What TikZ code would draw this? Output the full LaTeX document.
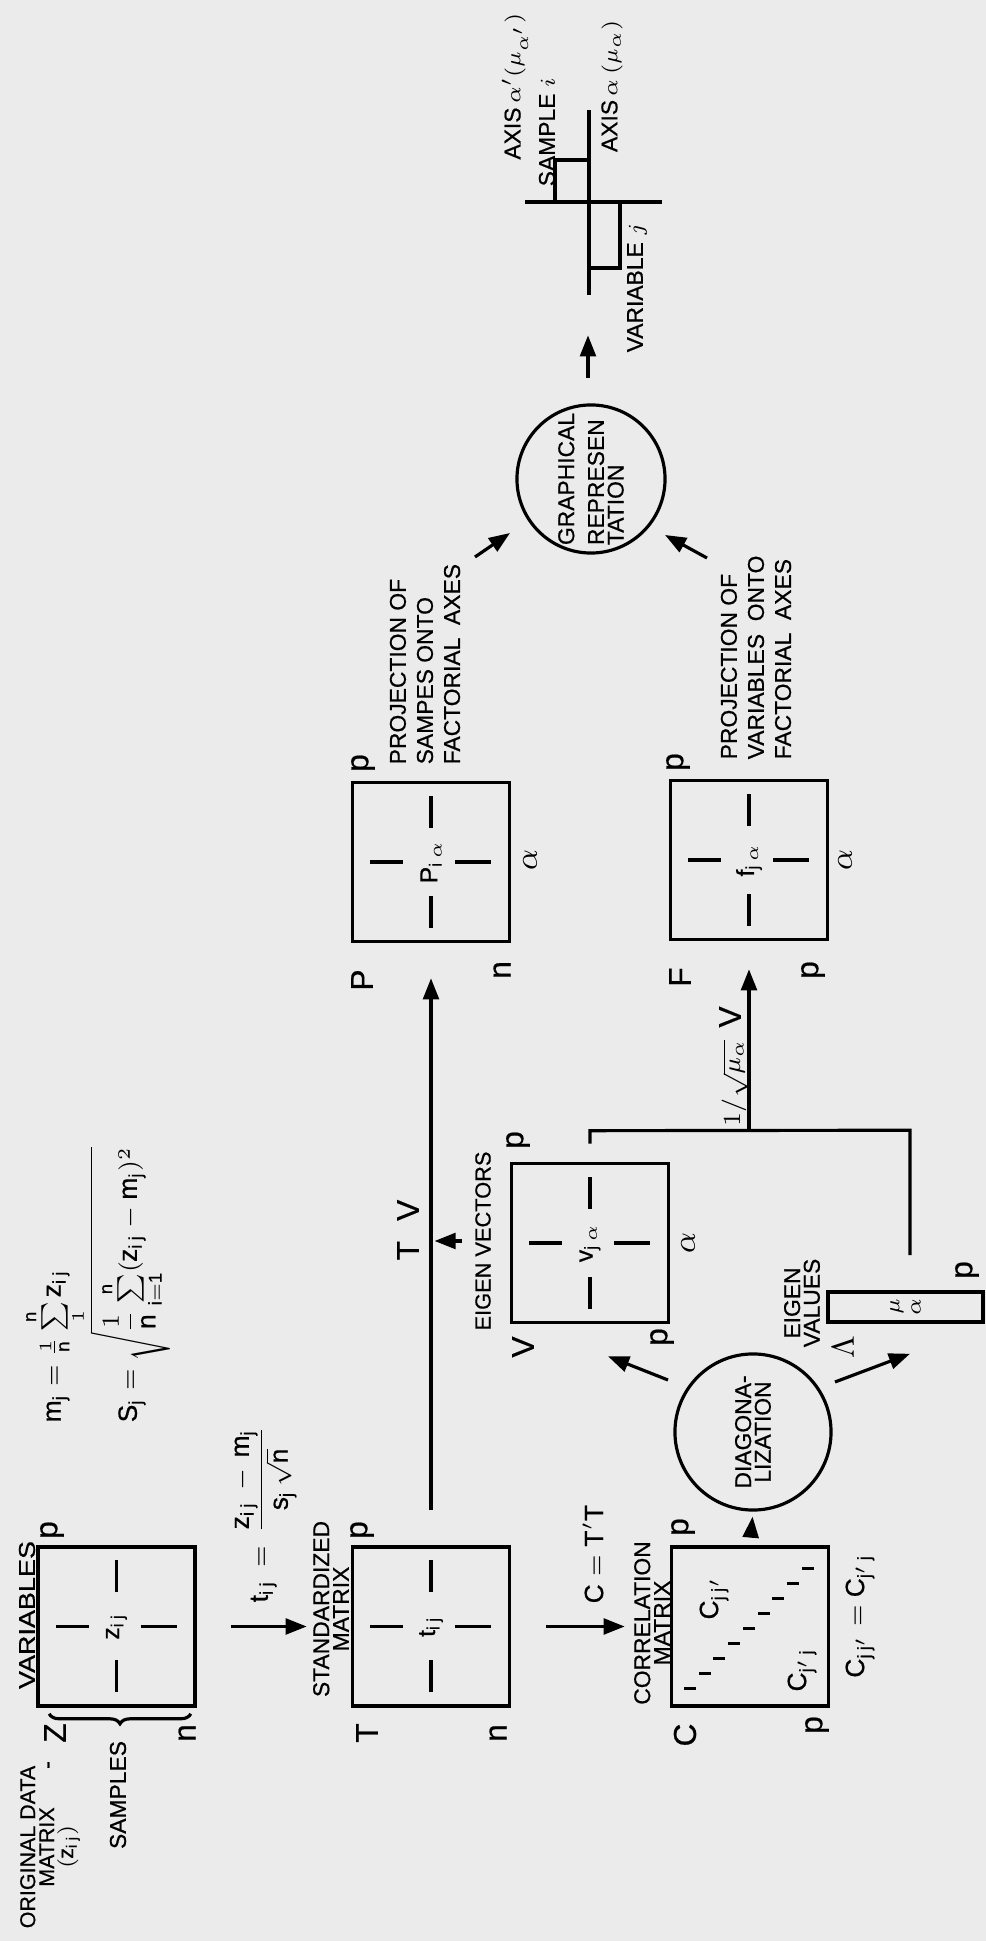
\documentclass[tikz,border=0pt]{standalone}
\usepackage{amsmath,amssymb}
\usepackage{graphicx}
\usepackage{fontspec}
\setmainfont[FakeBold=0.6]{Liberation Sans}
\usepackage{tikz}
\usetikzlibrary{positioning,arrows.meta,calc,decorations.pathreplacing}
\definecolor{paper}{gray}{0.92}

\begin{document}
\begin{tikzpicture}[
		x=0.01cm, y=0.01cm, rotate=90, transform shape,
		mat/.style={draw, line width=1pt, minimum width=1.59cm, minimum height=1.57cm, inner sep=0pt, font=\fontsize{7}{7}\selectfont},
		blob/.style={draw, circle, line width=0.9pt, inner sep=0pt, align=center, font=\fontsize{6.5}{5.6}\selectfont},
		lbl/.style={inner sep=0pt, align=center, font=\fontsize{6.5}{5.6}\selectfont},
		plbl/.style={inner sep=0pt, align=left, anchor=west, font=\fontsize{6.5}{7.7}\selectfont},
		corner/.style={inner sep=0pt, font=\fontsize{9}{9}\selectfont},
		form/.style={inner sep=0pt, font=\fontsize{7.5}{8}\selectfont},
		arrow/.style={-{Triangle[length=6pt,width=4.5pt]}, line width=0.9pt},
		conn/.style={line width=0.9pt},
		celltick/.style={line width=0.9pt}
		]
		
		\path[use as bounding box, fill=paper] (0,-986) rectangle (1941,0);
		
		% ---- matrices ----
		\node[mat] (zmat) at (314.5,-116.5) {$\mathrm{z_{i\,j}}$};
		\node[mat] (tmat) at (314.5,-431) {$\mathrm{t_{i\,j}}$};
		\node[mat] (cmat) at (314.5,-750) {};
		\node[mat] (vmat) at (698,-590) {$\mathrm{v_{j\,\alpha}}$};
		\node[mat] (pmat) at (1079,-431) {$\mathrm{P_{i\,\alpha}}$};
		\node[mat] (fmat) at (1081,-749) {$\mathrm{f_{j\,\alpha}}$};
		\node[draw, line width=1pt, minimum width=0.30cm, minimum height=1.55cm, inner sep=0pt, align=center, font=\fontsize{6.5}{6}\selectfont] (eig) at (634,-905.5) {$\mu$\\$\alpha$};
		
		\node[blob, minimum size=1.56cm] (diag) at (509,-753) {DIAGONA-\\LIZATION};
		\node[blob, minimum size=1.48cm, align=left] (graph) at (1462,-591) {GRAPHICAL\\[0.1cm]REPRESEN\\TATION};
		
		% crosses inside the matrices
		\draw[celltick] (zmat.center) ++(-66,0) -- ++(32,0) (zmat.center) ++(34,0) -- ++(32,0)
			(zmat.center) ++(0,28) -- ++(0,33) (zmat.center) ++(0,-24) -- ++(0,-36);
		\draw[celltick] (tmat.center) ++(-66,0) -- ++(32,0) (tmat.center) ++(34,0) -- ++(32,0)
			(tmat.center) ++(0,28) -- ++(0,33) (tmat.center) ++(0,-24) -- ++(0,-36);
		\draw[celltick] (vmat.center) ++(-66,0) -- ++(32,0) (vmat.center) ++(34,0) -- ++(32,0)
			(vmat.center) ++(0,28) -- ++(0,33) (vmat.center) ++(0,-24) -- ++(0,-36);
		\draw[celltick] (pmat.center) ++(-66,0) -- ++(32,0) (pmat.center) ++(34,0) -- ++(32,0)
			(pmat.center) ++(0,28) -- ++(0,33) (pmat.center) ++(0,-24) -- ++(0,-36);
		\draw[celltick] (fmat.center) ++(-66,0) -- ++(32,0) (fmat.center) ++(34,0) -- ++(32,0)
			(fmat.center) ++(0,28) -- ++(0,33) (fmat.center) ++(0,-24) -- ++(0,-36);
		% diagonal of the correlation matrix
		\draw[celltick] (cmat.center) ++(-62,66) -- ++(0,-12) (cmat.center) ++(-47,51) -- ++(0,-12)
			(cmat.center) ++(-32,37) -- ++(0,-12) (cmat.center) ++(-17,22) -- ++(0,-12)
			(cmat.center) ++(-2,7) -- ++(0,-12) (cmat.center) ++(13,-8) -- ++(0,-12)
			(cmat.center) ++(28,-22) -- ++(0,-12) (cmat.center) ++(43,-37) -- ++(0,-12)
			(cmat.center) ++(58,-52) -- ++(0,-12);
		\node[form] (cup) at (343,-714) {$\mathrm{C_{j\,j'}}$};
		\node[form] (clow) at (271,-802) {$\mathrm{C_{j'\,j}}$};
		
		% ---- labels ----
		\node[lbl, font=\fontsize{6.1}{5.4}\selectfont] (orig) at (94,-50) {ORIGINAL DATA\\MATRIX\\$(\mathrm{z_{i\,j}})$};
		\node[lbl] (dashz) at (176,-51) {-};
		\node[lbl] (varlbl) at (326,-27) {\scalebox{1.18}[1]{VARIABLES}};
		\node[lbl] (samplbl) at (146,-118) {SAMPLES};
		\draw[conn, decorate, decoration={brace, amplitude=0.1cm}] ($(zmat.south west)+(-6,6)$) -- ($(zmat.north west)+(-6,-13)$);
		\node[lbl] (stdlbl) at (332,-331) {STANDARDIZED\\MATRIX};
		\node[lbl] (corlbl) at (318,-652) {CORRELATION\\MATRIX};
		\node[lbl, font=\fontsize{6.2}{5.6}\selectfont] (evlbl) at (700,-483) {EIGEN VECTORS};
		\node[lbl] (evallbl) at (638,-802) {EIGEN\\VALUES};
		\node[plbl] (projs) at (1176,-425) {PROJECTION OF\\SAMPES ONTO\\FACTORIAL\ \ AXES};
		\node[plbl] (projv) at (1181,-756) {PROJECTION OF\\VARIABLES\ \ ONTO\\FACTORIAL\ \ AXES};
		
		% ---- formulas ----
		\node[form, anchor=west] (mform) at (518,-55) {$\mathrm{m_j}=\frac{1}{\mathrm{n}}\sum\limits_{1}^{\mathrm{n}}\mathrm{z_{i\,j}}$};
		\node[form, anchor=west] (sform) at (518,-130) {$\mathrm{S_j}=\sqrt{\dfrac{1}{\mathrm{n}}\sum\limits_{\mathrm{i=1}}^{\mathrm{n}}(\mathrm{z_{i\,j}-m_j})^2}$};
		\node[form, anchor=west] (tform) at (338,-265) {$\mathrm{t_{i\,j}}\,=\,\dfrac{\mathrm{z_{i\,j}\,-\,m_{j}}}{\mathrm{s_{j}}\,\sqrt{\mathrm{n}}}$};
		\node[form, anchor=west] (ctt) at (337,-593) {$\mathrm{C=T'T}$};
		\node[form] (csym) at (325,-860) {$\mathrm{C_{j\,j'}=C_{j'\,j}}$};
		\node[corner] (tvlbl) at (711,-408) {T\hspace{0.2cm}V};
		\node[form] (mulbl) at (858,-735) {$1/\sqrt{\mu_\alpha}$};
		\node[corner] (vlbl) at (924,-730) {V};
		
		% ---- corner letters ----
		\node[corner] at (208,-55) {Z};
		\node[corner] at (411,-52) {p};
		\node[corner] at (208,-187) {n};
		\node[corner] at (208,-367) {T};
		\node[corner] at (411,-362) {p};
		\node[corner] at (208,-498) {n};
		\node[corner] at (206,-685) {C};
		\node[corner] at (414,-683) {p};
		\node[corner] at (216,-817) {p};
		\node[corner] at (594,-523) {V};
		\node[corner] at (604,-662) {p};
		\node[corner] at (801,-518) {p};
		\node[corner] at (698,-688) {$\alpha$};
		\node[corner] at (594,-843) {$\Lambda$};
		\node[corner] at (671,-967) {p};
		\node[corner] at (961,-362) {P};
		\node[corner] at (971,-502) {n};
		\node[corner] at (1178,-363) {p};
		\node[corner] at (1081,-530) {$\alpha$};
		\node[corner] at (964,-680) {F};
		\node[corner] at (971,-813) {p};
		\node[corner] at (1179,-678) {p};
		\node[corner] at (1081,-845) {$\alpha$};
		
		% ---- arrows ----
		\draw[arrow, shorten <=0.34cm, shorten >=0.44cm] (zmat.south) -- (tmat.north);
		\draw[arrow, shorten <=0.35cm, shorten >=0.45cm] (tmat.south) -- (cmat.north);
		\draw[arrow, shorten <=0.08cm, shorten >=0.05cm] (cmat.east) -- (diag.west);
		\draw[arrow, shorten <=0.35cm, shorten >=0.35cm] (tmat.east) -- (pmat.west);
		\draw[arrow, shorten <=0.13cm] (evlbl.north) -- ++(0,40);
		\draw[arrow] ($(diag.center)+(52,85)$) -- ($(vmat.west)+(-32,-18)$);
		\draw[arrow] ($(diag.center)+(50,-82)$) -- ($(eig.west)+(-30,-4.5)$);
		\coordinate (junc) at (809,-749);
		\draw[conn] ($(vmat.east)+(18,0)$) -- ($(vmat.east)+(31,0)$) -- ($(eig.east)+(160,-4.5)$) -- ($(eig.east)+(35,-4.5)$);
		\draw[arrow, shorten >=0.28cm] (junc) -- (fmat.west);
		\draw[arrow] ($(graph.center)+(-78,116)$) -- ($(graph.center)+(-54,81)$);
		\draw[arrow] ($(graph.center)+(-79,-116)$) -- ($(graph.center)+(-56,-74)$);
		\draw[arrow] ($(graph.east)+(25,3)$) -- ++(43,0);
		
		% ---- factorial plane ----
		\coordinate (axo) at (1739,-589);
		\draw[conn] (axo) ++(0,64) -- ++(0,-137);
		\draw[conn] (axo) ++(-93,0) -- ++(185,0);
		\draw[conn] (axo) ++(0,34) -- ++(42,0) -- ++(0,-34);
		\draw[conn] (axo) ++(0,-31) -- ++(-66,0) -- ++(0,31);
		\node[lbl, anchor=east] (axa2) at (1928,-515) {AXIS\,$\alpha'(\mu_{\alpha'})$};
		\node[lbl, anchor=west] (smp) at (1754,-547) {SAMPLE $i$};
		\node[lbl, anchor=east] (axa) at (1921,-612) {AXIS\,$\alpha\,(\mu_\alpha)$};
		\node[lbl, anchor=west] (varj) at (1588,-637) {VARIABLE $j$};
		
	\end{tikzpicture}
\end{document}
